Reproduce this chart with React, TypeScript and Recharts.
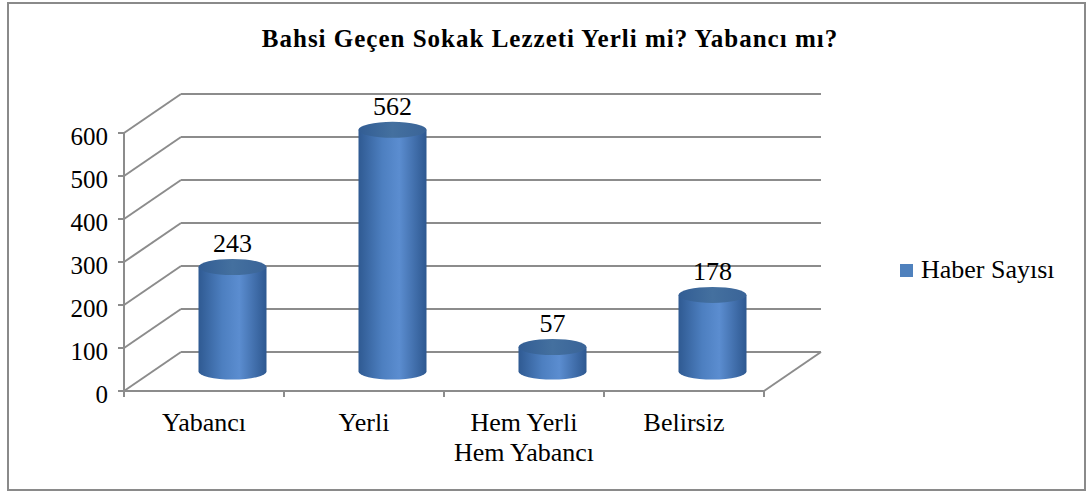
import { BarChart, Bar, XAxis, YAxis, CartesianGrid, Legend, LabelList } from 'recharts';

const categories = ['Yabancı', 'Yerli', 'Hem Yerli\nHem Yabancı', 'Belirsiz'];
const haberSayisi = [243, 562, 57, 178];
const yTicks = [0, 100, 200, 300, 400, 500, 600];

const data = categories.map((name, i) => ({ name, value: haberSayisi[i] }));

// depth of the 3D box
const DX = 57;
const DY = -39;
const RY = 8;
const FONT = '"Liberation Serif", "Times New Roman", serif';
const GRID = '#8c8c8c';

const GridLine = (props: any) => {
  const { x1, x2, y1, index } = props;
  return (
    <g key={`g-${index}`}>
      <line x1={x1} y1={y1} x2={x1 + DX} y2={y1 + DY} stroke={GRID} strokeWidth={2} />
      <line x1={x1 + DX} y1={y1 + DY} x2={x2 + DX} y2={y1 + DY} stroke={GRID} strokeWidth={2} />
      {index === 0 && (
        <line x1={x2} y1={y1} x2={x2 + DX} y2={y1 + DY} stroke={GRID} strokeWidth={2} />
      )}
    </g>
  );
};

const Cylinder = (props: any) => {
  const { x, y, width, height } = props;
  const cx = x + DX / 2;
  const top = y + DY / 2;
  const bottom = y + height + DY / 2;
  const rx = width / 2;
  return (
    <g>
      <path
        d={`M${cx},${top} L${cx},${bottom} A${rx},${RY} 0 0 0 ${cx + width},${bottom} L${cx + width},${top} Z`}
        fill="url(#cylBody)"
      />
      <ellipse cx={cx + rx} cy={top} rx={rx} ry={RY} fill="url(#cylTop)" />
    </g>
  );
};

const ValueLabel = (props: any) => {
  const { x, y, width, value } = props;
  return (
    <text
      x={x + width / 2 + DX / 2}
      y={y + DY / 2 - 15}
      textAnchor="middle"
      fontFamily={FONT}
      fontSize={26}
      fill="#000"
    >
      {value}
    </text>
  );
};

const CategoryTick = (props: any) => {
  const { x, y, payload } = props;
  const half = payload.offset || 80;
  const lines = String(payload.value).split('\n');
  return (
    <g>
      <line x1={x - half} y1={y - 8} x2={x - half} y2={y - 2} stroke={GRID} strokeWidth={2} />
      {payload.index === categories.length - 1 && (
        <line x1={x + half} y1={y - 8} x2={x + half} y2={y - 2} stroke={GRID} strokeWidth={2} />
      )}
      {lines.map((l, i) => (
        <text
          key={i}
          x={x}
          y={y + 32 + i * 30}
          textAnchor="middle"
          fontFamily={FONT}
          fontSize={26}
          fill="#000"
        >
          {l}
        </text>
      ))}
    </g>
  );
};

const LegendContent = () => (
  <div style={{ display: 'flex', alignItems: 'center', fontFamily: 'Liberation Serif', fontSize: 26, lineHeight: '30px', color: '#000' }}>
    <span style={{ width: 13, height: 13, background: '#4f81bd', display: 'inline-block', marginRight: 8 }} />
    <span style={{ fontFamily: 'Liberation Serif' }}>Haber Sayısı</span>
  </div>
);

export default function App() {
  return (
    <div style={{ position: 'absolute', left: 0, top: 0, width: 1088, height: 491, background: '#fff' }}>
      <div
        style={{
          position: 'absolute',
          left: 7,
          top: 2,
          width: 1075,
          height: 485,
          border: '2px solid #8a8a8a',
        }}
      />
      <div
        style={{
          position: 'absolute',
          left: 0,
          top: 27,
          width: 1100,
          textAlign: 'center',
          fontFamily: FONT,
          fontWeight: 'bold',
          fontSize: 25,
          lineHeight: '24px',
          letterSpacing: 1,
        }}
      >
        Bahsi Geçen Sokak Lezzeti Yerli mi? Yabancı mı?
      </div>
      <BarChart
        width={1088}
        height={491}
        data={data}
        margin={{ top: 133, right: 324, left: 64, bottom: 60 }}
        barSize={68}
      >
        <defs>
          <linearGradient id="cylBody" x1="0" y1="0" x2="1" y2="0">
            <stop offset="0%" stopColor="#2f5a92" />
            <stop offset="35%" stopColor="#4d7fc0" />
            <stop offset="60%" stopColor="#5b8dd0" />
            <stop offset="100%" stopColor="#2e5890" />
          </linearGradient>
          <linearGradient id="cylTop" x1="0" y1="0" x2="1" y2="0">
            <stop offset="0%" stopColor="#325d94" />
            <stop offset="50%" stopColor="#44709f" />
            <stop offset="100%" stopColor="#3a6498" />
          </linearGradient>
        </defs>
        <CartesianGrid vertical={false} horizontal={GridLine} />
        <XAxis
          dataKey="name"
          height={40}
          axisLine={{ stroke: GRID, strokeWidth: 2 }}
          tickLine={false}
          tick={CategoryTick}
          interval={0}
        />
        <YAxis
          width={60}
          domain={[0, 600]}
          ticks={yTicks}
          axisLine={{ stroke: GRID, strokeWidth: 2 }}
          tickLine={{ stroke: GRID, strokeWidth: 2 }}
          tickSize={6}
          tickMargin={10}
          tick={{ fontFamily: FONT, fontSize: 25, fill: '#000', dy: 3 }}
        />
        <Legend
          layout="horizontal"
          verticalAlign="middle"
          align="center"
          wrapperStyle={{ left: 900, top: 255, width: 185 }}
          content={LegendContent}
        />
        <Bar dataKey="value" shape={Cylinder} isAnimationActive={false}>
          <LabelList dataKey="value" content={ValueLabel} />
        </Bar>
      </BarChart>
    </div>
  );
}
